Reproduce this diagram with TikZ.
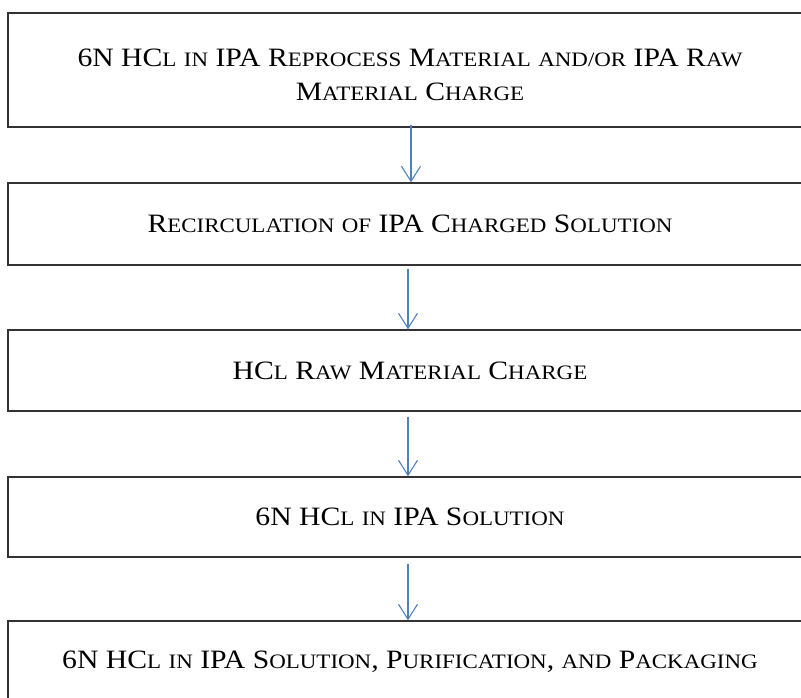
\documentclass[tikz,border=0pt]{standalone}
\usepackage{fontspec}
\setmainfont{Liberation Serif}[FakeStretch=1.12]
\usetikzlibrary{arrows.meta}
\definecolor{flowblue}{RGB}{79,129,189}
\newcommand{\sml}[1]{{\fontsize{20.5pt}{34pt}\selectfont #1}}
\tikzset{
  stage/.style={draw=black!80,line width=1.4pt,minimum width=804pt,align=center,
    inner sep=0pt,font=\fontsize{26.5pt}{34pt}\selectfont},
  flow/.style={flowblue,line width=1.1pt,-{Straight Barb[length=15pt,width=19pt,line width=1.1pt]}}
}
\begin{document}
\begin{tikzpicture}[x=1pt,y=-1pt]
  \useasboundingbox (0,0) rectangle (801,698);
  \node[stage,minimum height=114pt] (charge) at (410,70)
    {\rule{0pt}{28pt}6N HC\sml{L} \sml{IN} IPA R\sml{EPROCESS} M\sml{ATERIAL} \sml{AND/OR} IPA R\sml{AW}\\
     M\sml{ATERIAL} C\sml{HARGE}};
  \node[stage,minimum height=82pt] (recirc) at (410,224)
    {R\sml{ECIRCULATION} \sml{OF} IPA C\sml{HARGED} S\sml{OLUTION}};
  \node[stage,minimum height=81pt] (hcl) at (410,370.5)
    {HC\sml{L} R\sml{AW} M\sml{ATERIAL} C\sml{HARGE}};
  \node[stage,minimum height=80pt] (soln) at (410,517)
    {6N HC\sml{L} \sml{IN} IPA S\sml{OLUTION}};
  \node[stage,minimum height=81pt] (pack) at (410,661.5)
    {6N HC\sml{L} \sml{IN} IPA S\sml{OLUTION}, P\sml{URIFICATION}, \sml{AND} P\sml{ACKAGING}};
  \draw[flow] ([xshift=1pt,yshift=3pt]charge.south) -- ([xshift=1pt]recirc.north);
  \draw[flow] ([xshift=-2pt,yshift=-3pt]recirc.south) -- ([xshift=-2pt]hcl.north);
  \draw[flow] ([xshift=-2pt,yshift=-5pt]hcl.south) -- ([xshift=-2pt]soln.north);
  \draw[flow] ([xshift=-2pt,yshift=-6pt]soln.south) -- ([xshift=-2pt]pack.north);
\end{tikzpicture}
\end{document}
